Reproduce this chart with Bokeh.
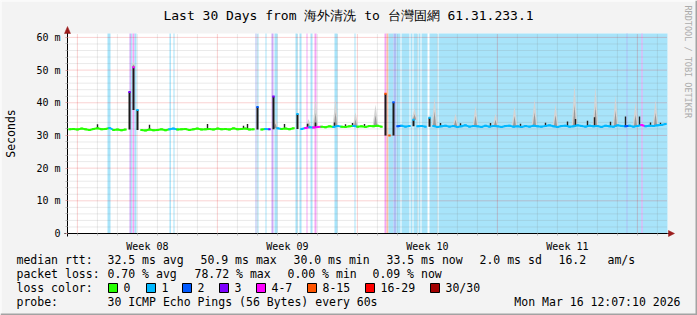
import math
from bokeh.plotting import figure
from bokeh.models import Range1d, FixedTicker
from bokeh.core.properties import value
from bokeh.embed import file_html
from bokeh.resources import INLINE

# ---------------- data ----------------
title_text = "Last 30 Days from 海外清洗 to 台灣固網 61.31.233.1"
window_start = 0.504977   # Sat Feb 14 12:07:10, in days since Feb 14 00:00
window_days = 30

# median rtt (ms), 150 consecutive samples over the 30 days
median_ms = [
    31.9, 32.0, 31.8, 32.1, 31.9, 31.7, 32.0, 32.2, 31.9, 32.0,
    32.3,
    31.7, 31.8, 31.6, 31.8,
    43.3, 50.9, 37.8,
    31.7, 31.5, 31.8, 31.6, 31.7, 31.9, 31.6,
    31.9, 32.1, 31.8, 31.9, 32.0, 31.7, 31.9, 32.1, 31.8, 31.9,
    32.0, 31.8, 32.1, 31.9, 32.0, 31.8, 32.2, 31.9, 32.0, 32.1, 31.8, 31.9,
    38.7,
    31.8, 32.0, 31.9,
    41.9,
    32.2, 32.0, 32.1, 31.9, 32.2,
    36.6,
    32.0, 32.3, 32.5, 32.4, 32.6,
    32.7, 32.5, 32.8, 32.6, 32.9, 32.7, 32.6, 32.8, 32.9, 32.7, 32.8, 32.6, 32.9, 32.8, 33.0, 32.7,
    42.8, 30.0, 40.2,
    32.8, 33.0, 32.7, 32.9,
    34.8,
    32.8, 32.9, 32.7, 35.4,
    32.9, 32.6, 32.8, 33.0, 32.7, 32.9, 32.6, 32.8, 33.1, 32.7,
    32.9, 32.8, 32.6, 33.0, 32.7, 32.9, 32.8, 32.6, 32.9, 33.0,
    32.7, 32.8, 32.6, 32.9, 32.7, 33.0, 32.8, 32.7, 32.9, 33.1,
    32.8, 32.6, 32.9, 33.0, 32.7, 32.8, 33.1, 32.9, 32.7, 33.0,
    32.8, 32.9, 32.6, 33.0, 32.8, 32.7, 33.1, 32.9, 32.8, 33.0,
    32.7, 32.9, 33.2, 32.8, 33.0, 32.9, 33.1, 33.2, 33.5,
]

# loss periods (days after window start) and loss class index
loss_start = [2.00, 3.10, 3.18, 3.25, 3.35, 5.10, 5.30, 9.40, 9.50, 9.90,
              10.20, 10.35, 11.40, 11.60, 11.95, 12.15, 12.35, 13.35, 14.35, 15.85,
              15.95, 16.05, 16.30, 16.45, 16.70, 17.15, 17.30, 17.55, 17.70, 18.10,
              18.55, 27.95, 28.70]
loss_end = [2.15, 3.17, 3.24, 3.35, 3.45, 5.17, 5.35, 9.45, 9.55, 9.95,
            10.30, 10.50, 11.50, 11.70, 12.00, 12.25, 12.45, 13.50, 14.40, 15.95,
            16.05, 16.30, 16.45, 16.65, 17.10, 17.25, 17.50, 17.65, 18.00, 18.50,
            30.00, 28.00, 28.75]
loss_cat = [1, 3, 1, 4, 1, 1, 1, 2, 1, 1,
            3, 1, 1, 1, 4, 1, 4, 1, 1, 4,
            5, 1, 2, 1, 1, 1, 1, 1, 1, 1,
            1, 2, 4]

# dark smoke flecks (days after window start, top ms)
dark_day = [1.5, 4.1, 7.0, 8.8, 9.0, 10.85, 12.0, 12.4, 13.35, 13.9, 14.25, 14.85,
            18.65, 19.65, 21.15, 22.65, 23.9, 25.0, 25.4, 26.0, 26.35, 27.15, 27.9, 28.6, 29.15, 29.65]
dark_top = [33.4, 33.3, 33.5, 33.0, 33.5, 33.5, 33.6, 34.0, 34.0, 33.4, 33.8, 33.5,
            33.8, 33.7, 33.8, 33.6, 33.9, 34.3, 35.0, 34.5, 35.6, 34.2, 35.8, 35.8, 34.0, 33.9]

# light smoke spikes (days after window start, top ms)
smoke_day = [3.3, 10.4, 12.05, 12.4, 13.4, 14.4, 15.4, 17.35, 18.35, 19.4,
             20.4, 21.4, 22.35, 23.35, 24.4, 25.35, 26.4, 27.4, 28.4, 29.4]
smoke_top = [52.6, 35.1, 35.0, 41.3, 41.3, 37.1, 39.5, 38.3, 41.7, 36.7,
             39.2, 36.7, 39.2, 41.2, 39.7, 45.8, 45.0, 42.2, 40.2, 40.9]

week_mid_day = [4.5, 11.5, 18.5, 25.5]
week_labels = ["Week 08", "Week 09", "Week 10", "Week 11"]
week_start_day = [1, 8, 15, 22, 29]
day_start = list(range(1, 31))
y_major = [0, 10, 20, 30, 40, 50, 60]
y_major_labels = ["0", "10 m", "20 m", "30 m", "40 m", "50 m", "60 m"]
y_minor = [v for v in range(2, 61, 2) if v % 10]

loss_names = ["0", "1", "2", "3", "4-7", "8-15", "16-29", "30/30"]
loss_colors = ["#26ff00", "#00b8ff", "#0059ff", "#7e00ff", "#ff00ff", "#ff5500", "#ff0000", "#a10000"]
loss_bg = ["#ffffff", "#a8e4fa", "#aebff5", "#cfaaf7", "#f5a6f5", "#fbc2a6", "#ffa6a6", "#dca6a6"]

stats_rtt = ["median rtt:", "32.5 ms avg", "50.9 ms max", "30.0 ms min",
             "33.5 ms now", "2.0 ms sd", "16.2", "am/s"]
stats_loss = ["packet loss:", "0.70 % avg", "78.72 % max", "0.00 % min", "0.09 % now"]
probe_text = "30 ICMP Echo Pings (56 Bytes) every 60s"
stamp_text = "Mon Mar 16 12:07:10 2026"

# ---------------- layout (pixel positions of the page elements) ----------------
MONO = "DejaVu Sans Mono"
Y_TOP = 61.2
X0_PX, X1_PX, YT_PX, YB_PX = 67, 667, 33, 233
rtt_px = [16, 107, 200, 293, 386, 479, 558, 607]
loss_px = [16, 107, 194, 287, 372]
legend_px = [108, 146, 182, 219, 256, 307, 365, 430]


def X(px):
    return window_start + (px - X0_PX) * window_days / (X1_PX - X0_PX)


def Y(py):
    return (YB_PX - py) * Y_TOP / (YB_PX - YT_PX)


p = figure(width=697, height=315, output_backend="svg", toolbar_location=None,
           x_range=Range1d(X(0), X(697)), y_range=Range1d(Y(315), Y(0)),
           min_border=0, min_border_left=0, min_border_right=0, min_border_top=0, min_border_bottom=0)
p.title.visible = False
p.background_fill_color = "#f3f3f3"
p.border_fill_color = "#f3f3f3"
p.outline_line_color = None
p.grid.visible = False

x_lo, x_hi = window_start, window_start + window_days

# plot area
p.quad(left=[x_lo], right=[x_hi], bottom=[0], top=[Y_TOP], fill_color="#ffffff", line_color=None)

# loss background
p.quad(left=[window_start + s for s in loss_start], right=[window_start + e for e in loss_end],
       bottom=0, top=Y_TOP, fill_color=[loss_bg[c] for c in loss_cat], line_color=None)

# grid lines
minor_days = [d for d in day_start if d not in week_start_day]
p.segment(x0=minor_days, y0=0, x1=minor_days, y1=Y_TOP, line_color="#808080", line_alpha=0.33, line_dash="1 1")
p.segment(x0=x_lo, y0=y_minor, x1=x_hi, y1=y_minor, line_color="#808080", line_alpha=0.33, line_dash="1 1")
p.segment(x0=week_start_day, y0=0, x1=week_start_day, y1=Y_TOP, line_color="#e00000", line_alpha=0.36, line_dash="1 1")
p.segment(x0=x_lo, y0=y_major[1:], x1=x_hi, y1=y_major[1:], line_color="#e00000", line_alpha=0.36, line_dash="1 1")

# samples
n = len(median_ms)
step = window_days / n
xc = [window_start + step * (i + 0.5) for i in range(n)]


def cat_for(a, b):
    c = 0
    for s, e, k in zip(loss_start, loss_end, loss_cat):
        if s < b and e > a:
            c = max(c, k)
    return c


mcat = [cat_for(step * i, step * (i + 1)) for i in range(n)]

# light smoke
sx_o, sy_o, sx_i, sy_i = [], [], [], []
for d, top in zip(smoke_day, smoke_top):
    b = median_ms[min(n - 1, int(d / step))]
    x = window_start + d
    sx_o.append([x - 0.14, x, x + 0.14]); sy_o.append([b, top, b])
    sx_i.append([x - 0.08, x, x + 0.08]); sy_i.append([b, b + 0.5 * (top - b), b])
p.patches(sx_o, sy_o, fill_color="#d4d4d4", line_color=None)
p.patches(sx_i, sy_i, fill_color="#9a9a9a", line_color=None)

# dark spikes where the median jumps
bx, bb, bt = [], [], []
for i in range(1, n - 1):
    lo = min(median_ms[i - 1], median_ms[i + 1])
    if median_ms[i] - lo > 1.5:
        bx.append(xc[i]); bb.append(min(lo, median_ms[i])); bt.append(median_ms[i])
p.vbar(x=bx, width=0.1, bottom=bb, top=bt, fill_color="#1a1a1a", line_color=None)

# dark flecks
fx, fb, ft = [], [], []
for d, top in zip(dark_day, dark_top):
    fx.append(window_start + d); fb.append(median_ms[min(n - 1, int(d / step))]); ft.append(top)
p.vbar(x=fx, width=0.07, bottom=fb, top=ft, fill_color="#222222", line_color=None)

# median line
s_x0, s_y0, s_x1, s_y1, s_c = [], [], [], [], []
for i in range(n - 1):
    if abs(median_ms[i + 1] - median_ms[i]) <= 1.5:
        s_x0.append(xc[i]); s_y0.append(median_ms[i]); s_x1.append(xc[i + 1]); s_y1.append(median_ms[i + 1])
        s_c.append(loss_colors[mcat[i]])
for i in range(n):
    s_x0.append(xc[i] - 0.06); s_y0.append(median_ms[i]); s_x1.append(xc[i] + 0.06); s_y1.append(median_ms[i])
    s_c.append(loss_colors[mcat[i]])
p.segment(x0=s_x0, y0=s_y0, x1=s_x1, y1=s_y1, line_color=s_c, line_width=2)

# axes, fixed at the plot-area edges
xa, ya = p.xaxis[0], p.yaxis[0]
xa.fixed_location = 0
ya.fixed_location = x_lo
xa.bounds = (X(64), x_hi)
ya.bounds = (Y(236), Y_TOP)
xa.ticker = FixedTicker(ticks=week_mid_day, minor_ticks=day_start)
xa.major_label_overrides = {d: t for d, t in zip(week_mid_day, week_labels)}
ya.ticker = FixedTicker(ticks=y_major, minor_ticks=y_minor)
ya.major_label_overrides = {v: t for v, t in zip(y_major, y_major_labels)}
for ax in (xa, ya):
    ax.axis_line_color = "black"
    ax.axis_line_width = 1
    ax.major_label_text_font = MONO
    ax.major_label_text_font_size = "10px"
    ax.major_label_text_color = "#000000"
    ax.minor_tick_in = 0
    ax.minor_tick_out = 2
    ax.minor_tick_line_color = "#b8b8b8"
    ax.major_tick_in = 0
xa.major_tick_out = 0
xa.major_tick_line_color = None
xa.major_label_standoff = 5
ya.major_tick_out = 2
ya.major_tick_line_color = "#e0a0a0"
ya.major_label_standoff = 5

# axis arrows
p.segment(x0=[x_lo], y0=[Y_TOP], x1=[x_lo], y1=[Y(29)], line_color="black", line_width=1)
p.segment(x0=[x_hi], y0=[0], x1=[X(669)], y1=[0], line_color="black", line_width=1)
p.patches([[X(64), X(70), X(67)], [X(668), X(668), X(674)]],
          [[Y(33), Y(33), Y(26)], [Y(230), Y(236), Y(233)]],
          fill_color="#9b1c1c", line_color="#9b1c1c", line_width=0.5)


# texts
def txt(texts, pxs, py, size="11.5px", align="left", angle=0.0, color="#000000"):
    p.text(x=[X(v) for v in pxs], y=[Y(py)] * len(pxs), text=texts, text_font=value(MONO),
           text_font_size=value(size), text_align=value(align), text_baseline=value("middle"),
           angle=angle, text_color=color)


txt([title_text], [348], 15, size="13px", align="center")
txt(["Seconds"], [10], 133, align="center", angle=math.pi / 2)
txt(["RRDTOOL / TOBI OETIKER"], [687], 5, size="8.5px", angle=-math.pi / 2, color="#ababab")
txt(stats_rtt, rtt_px, 259)
txt(stats_loss, loss_px, 273)
txt(["loss color:"], [16], 287)
p.quad(left=[X(v) for v in legend_px], right=[X(v + 9) for v in legend_px],
       top=Y(283), bottom=Y(292), fill_color=loss_colors, line_color="black", line_width=1)
txt(loss_names, [v + 15 for v in legend_px], 287)
txt(["probe:", probe_text], [16, 107], 301)
txt([stamp_text], [680], 301, align="right")

# shaded canvas border
p.quad(left=[X(0), X(0), X(695), X(0)], right=[X(697), X(1), X(697), X(697)],
       top=[Y(0), Y(0), Y(0), Y(313)], bottom=[Y(1), Y(315), Y(315), Y(315)],
       fill_color=["#ffffff", "#ffffff", "#a3a3a3", "#a3a3a3"], line_color=None)

open("out.html", "w").write(file_html(p, INLINE))
